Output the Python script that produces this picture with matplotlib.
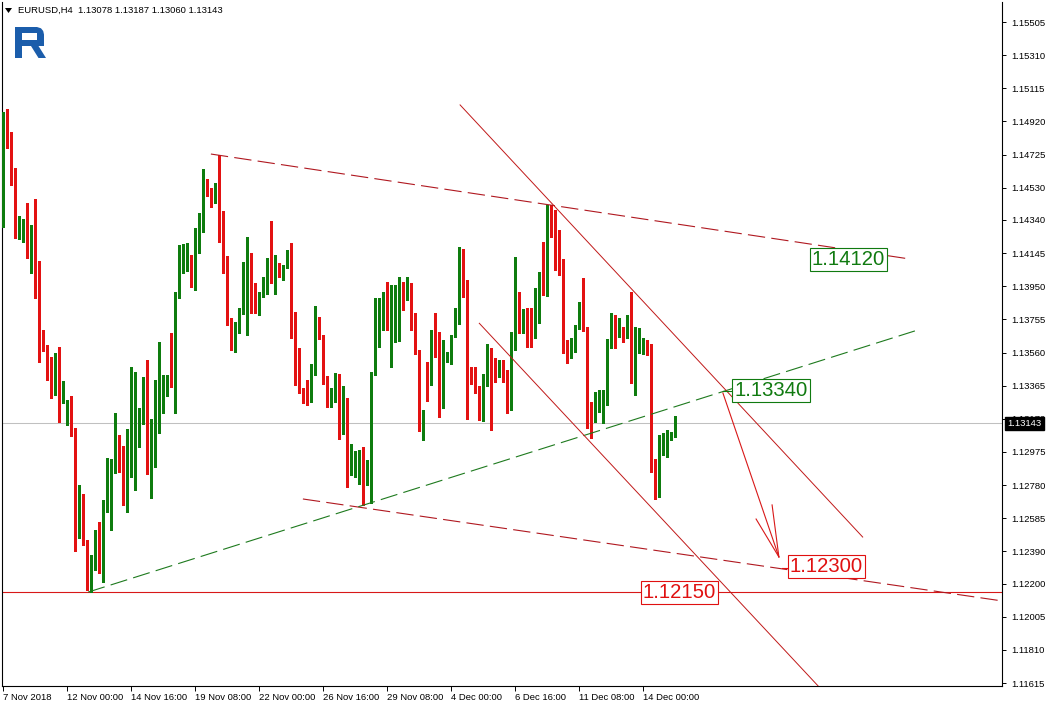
import matplotlib
matplotlib.use("Agg")
import matplotlib.pyplot as plt
import matplotlib.transforms as mtransforms
from matplotlib.patches import Polygon, Rectangle

plt.rcParams['lines.scale_dashes'] = False
plt.rcParams['font.family'] = ['Liberation Sans', 'DejaVu Sans']

# ---------------- data ----------------
symbol = "EURUSD,H4"
header_ohlc = ["1.13078", "1.13187", "1.13060", "1.13143"]

opens = [1.14516, 1.14905, 1.14793, 1.14634, 1.14240, 1.14322, 1.14334, 1.14222, 1.14258, 1.13922,
         1.13622, 1.13587, 1.13487, 1.13369, 1.13504, 1.13310, 1.13169, 1.13245, 1.13098, 1.12557,
         1.12721, 1.12445, 1.12165, 1.12351, 1.12398, 1.12339, 1.12633, 1.12786, 1.12857, 1.13069,
         1.12898, 1.12692, 1.12839, 1.12927, 1.13063, 1.13145, 1.13322, 1.12851, 1.12898, 1.13139,
         1.13239, 1.13386, 1.13416, 1.13398, 1.13887, 1.14116, 1.14099, 1.14128, 1.13963, 1.14263,
         1.14275, 1.14569, 1.14516, 1.14463, 1.14475, 1.14275, 1.14063, 1.13757, 1.13675, 1.13681,
         1.13793, 1.13834, 1.14122, 1.13957, 1.13792, 1.13893, 1.13963, 1.14034, 1.14028, 1.14075,
         1.13993, 1.14063, 1.14140, 1.13740, 1.13504, 1.13345, 1.13369, 1.13298, 1.13475, 1.13740,
         1.13651, 1.13386, 1.13263, 1.13281, 1.13428, 1.13086, 1.13198, 1.12845, 1.12839, 1.12869,
         1.12939, 1.12798, 1.12875, 1.13434, 1.13651, 1.13704, 1.13857, 1.13698, 1.13704, 1.13710,
         1.13910, 1.13898, 1.13916, 1.13704, 1.13569, 1.13139, 1.13498, 1.13375, 1.13657, 1.13651,
         1.13239, 1.13528, 1.13510, 1.13657, 1.13734, 1.14099, 1.13893, 1.13422, 1.13404, 1.13357,
         1.13175, 1.13369, 1.13557, 1.13492, 1.13428, 1.13475, 1.13445, 1.13404, 1.13592, 1.13857,
         1.13740, 1.13751, 1.13663, 1.13651, 1.13881, 1.13940, 1.13898, 1.14363, 1.14358, 1.14116,
         1.14104, 1.13592, 1.13534, 1.13616, 1.13704, 1.13816, 1.13693, 1.13175, 1.13157, 1.13298,
         1.13322, 1.13328, 1.13592, 1.13763, 1.13675, 1.13675, 1.13651, 1.13769, 1.13439, 1.13563,
         1.13557, 1.13628, 1.13604, 1.12927, 1.12733, 1.12998, 1.12980, 1.13063, 1.13078]
highs = [1.14975, 1.14993, 1.14858, 1.14646, 1.14363, 1.14346, 1.14440, 1.14310, 1.14463, 1.14099,
         1.13693, 1.13604, 1.13534, 1.13557, 1.13592, 1.13392, 1.13281, 1.13304, 1.13116, 1.12780,
         1.12727, 1.12457, 1.12368, 1.12516, 1.12563, 1.12692, 1.12939, 1.12933, 1.13204, 1.13075,
         1.13010, 1.13110, 1.13475, 1.13445, 1.13233, 1.13416, 1.13516, 1.13169, 1.13398, 1.13622,
         1.13428, 1.13428, 1.13675, 1.13916, 1.14193, 1.14199, 1.14205, 1.14134, 1.14293, 1.14381,
         1.14640, 1.14581, 1.14528, 1.14558, 1.14722, 1.14393, 1.14128, 1.13763, 1.13740, 1.13822,
         1.14093, 1.14240, 1.14146, 1.13969, 1.13916, 1.14004, 1.14116, 1.14334, 1.14134, 1.14087,
         1.14075, 1.14163, 1.14205, 1.13798, 1.13587, 1.13351, 1.13398, 1.13492, 1.13834, 1.13769,
         1.13663, 1.13422, 1.13351, 1.13439, 1.13434, 1.13363, 1.13292, 1.13022, 1.12980, 1.12986,
         1.13004, 1.12927, 1.13445, 1.13881, 1.13881, 1.13916, 1.13975, 1.13957, 1.13957, 1.14004,
         1.13975, 1.14004, 1.13969, 1.13793, 1.13575, 1.13222, 1.13504, 1.13693, 1.13793, 1.13681,
         1.13634, 1.13563, 1.13663, 1.13822, 1.14181, 1.14169, 1.13987, 1.13475, 1.13475, 1.13363,
         1.13434, 1.13610, 1.13587, 1.13528, 1.13516, 1.13516, 1.13457, 1.13681, 1.14122, 1.13916,
         1.13816, 1.13822, 1.13822, 1.13940, 1.14034, 1.14210, 1.14428, 1.14428, 1.14399, 1.14281,
         1.14110, 1.13634, 1.13645, 1.13722, 1.13857, 1.13999, 1.13710, 1.13269, 1.13328, 1.13339,
         1.13339, 1.13640, 1.13793, 1.13781, 1.13763, 1.13710, 1.13781, 1.13916, 1.13710, 1.13704,
         1.13645, 1.13634, 1.13610, 1.12933, 1.13075, 1.13086, 1.13104, 1.13092, 1.13187]
lows = [1.14299, 1.14764, 1.14546, 1.14234, 1.14228, 1.14210, 1.14116, 1.14028, 1.13881, 1.13504,
        1.13569, 1.13398, 1.13292, 1.13310, 1.13151, 1.13263, 1.13133, 1.13069, 1.12392, 1.12468,
        1.12427, 1.12162, 1.12150, 1.12280, 1.12262, 1.12209, 1.12621, 1.12516, 1.12851, 1.12857,
        1.12663, 1.12621, 1.12827, 1.12751, 1.13004, 1.13139, 1.12845, 1.12704, 1.12886, 1.13086,
        1.13204, 1.13304, 1.13357, 1.13204, 1.13881, 1.14028, 1.14040, 1.13946, 1.13928, 1.14146,
        1.14269, 1.14481, 1.14416, 1.14440, 1.14210, 1.14028, 1.13722, 1.13575, 1.13563, 1.13675,
        1.13786, 1.13663, 1.13793, 1.13792, 1.13781, 1.13887, 1.13904, 1.13969, 1.13904, 1.14004,
        1.13987, 1.14057, 1.13645, 1.13369, 1.13322, 1.13263, 1.13251, 1.13269, 1.13428, 1.13640,
        1.13375, 1.13239, 1.13239, 1.13269, 1.13051, 1.13080, 1.12769, 1.12839, 1.12827, 1.12786,
        1.12663, 1.12780, 1.12674, 1.13428, 1.13592, 1.13693, 1.13693, 1.13475, 1.13622, 1.13628,
        1.13810, 1.13869, 1.13693, 1.13551, 1.13098, 1.13045, 1.13275, 1.13369, 1.13534, 1.13180,
        1.13233, 1.13504, 1.13492, 1.13651, 1.13728, 1.13887, 1.13169, 1.13375, 1.13322, 1.13163,
        1.13157, 1.13363, 1.13104, 1.13386, 1.13416, 1.13386, 1.13204, 1.13222, 1.13575, 1.13675,
        1.13675, 1.13592, 1.13592, 1.13645, 1.13734, 1.13898, 1.13893, 1.14240, 1.14046, 1.14016,
        1.13557, 1.13498, 1.13528, 1.13563, 1.13698, 1.13687, 1.13116, 1.13057, 1.13151, 1.13210,
        1.13145, 1.13251, 1.13587, 1.13587, 1.13651, 1.13622, 1.13645, 1.13381, 1.13310, 1.13557,
        1.13551, 1.13545, 1.12857, 1.12698, 1.12710, 1.12957, 1.12945, 1.13045, 1.13060]
closes = [1.14940, 1.14787, 1.14628, 1.14240, 1.14322, 1.14334, 1.14222, 1.14258, 1.13916, 1.13634,
          1.13587, 1.13481, 1.13369, 1.13504, 1.13310, 1.13339, 1.13245, 1.13086, 1.12557, 1.12721,
          1.12439, 1.12168, 1.12357, 1.12398, 1.12339, 1.12674, 1.12786, 1.12904, 1.13069, 1.12898,
          1.12692, 1.12845, 1.12933, 1.13086, 1.13145, 1.13322, 1.12851, 1.12898, 1.13145, 1.13298,
          1.13386, 1.13416, 1.13392, 1.13887, 1.14116, 1.14146, 1.14116, 1.13963, 1.14269, 1.14281,
          1.14569, 1.14528, 1.14463, 1.14475, 1.14263, 1.14057, 1.13745, 1.13693, 1.13698, 1.13798,
          1.13840, 1.14122, 1.13952, 1.13846, 1.13904, 1.13969, 1.14028, 1.14022, 1.14075, 1.14028,
          1.14063, 1.14140, 1.13734, 1.13498, 1.13339, 1.13310, 1.13298, 1.13475, 1.13740, 1.13645,
          1.13381, 1.13263, 1.13292, 1.13428, 1.13086, 1.13204, 1.12845, 1.12904, 1.12880, 1.12945,
          1.12798, 1.12869, 1.13434, 1.13657, 1.13710, 1.13857, 1.13704, 1.13710, 1.13722, 1.13922,
          1.13898, 1.13916, 1.13698, 1.13557, 1.13145, 1.13175, 1.13375, 1.13657, 1.13645, 1.13239,
          1.13534, 1.13540, 1.13657, 1.13740, 1.14099, 1.13893, 1.13416, 1.13410, 1.13357, 1.13180,
          1.13369, 1.13557, 1.13492, 1.13439, 1.13475, 1.13445, 1.13404, 1.13592, 1.13857, 1.13769,
          1.13757, 1.13651, 1.13651, 1.13881, 1.13940, 1.13934, 1.14369, 1.14352, 1.14116, 1.14099,
          1.13592, 1.13540, 1.13622, 1.13704, 1.13810, 1.13693, 1.13169, 1.13163, 1.13298, 1.13328,
          1.13328, 1.13592, 1.13763, 1.13681, 1.13681, 1.13651, 1.13769, 1.13439, 1.13569, 1.13575,
          1.13628, 1.13592, 1.12922, 1.12733, 1.13004, 1.13033, 1.13063, 1.13080, 1.13143]

x_tick_bars = [0, 16, 32, 48, 64, 80, 96, 112, 128, 144, 160]
x_tick_labels = ["7 Nov 2018", "12 Nov 00:00", "14 Nov 16:00", "19 Nov 08:00", "22 Nov 00:00",
                 "26 Nov 16:00", "29 Nov 08:00", "4 Dec 00:00", "6 Dec 16:00", "11 Dec 08:00",
                 "14 Dec 00:00"]
y_tick_values = [1.15505, 1.15310, 1.15115, 1.14920, 1.14725, 1.14530, 1.14340, 1.14145, 1.13950,
                 1.13755, 1.13560, 1.13365, 1.13170, 1.12975, 1.12780, 1.12585, 1.12390, 1.12200,
                 1.12005, 1.11810, 1.11615]
last_price = 1.13143

# analysis objects (bar index, price)
resistance_x = [51.9, 226.7]
resistance_y = [1.14728, 1.14110]
support_x = [74.9, 249.7]
support_y = [1.12698, 1.12098]
rising_x = [21.2, 227.9]
rising_y = [1.12150, 1.13687]
channel_top_x = [114.2, 214.85]
channel_top_y = [1.15017, 1.12474]
channel_bot_x = [119.0, 205.0]
channel_bot_y = [1.13732, 1.11565]
level_low = 1.12150
arrow_x = [179.9, 193.9]
arrow_y = [1.13322, 1.12357]
arrow_head1_x = [188.2, 193.9]
arrow_head1_y = [1.12580, 1.12357]
arrow_head2_x = [192.2, 193.9]
arrow_head2_y = [1.12663, 1.12357]

labels_text = ["1.14120", "1.13340", "1.12300", "1.12150"]
labels_x = [211.3, 191.9, 205.8, 169.05]
labels_y = [1.14110, 1.13335, 1.12298, 1.12150]
labels_color = ["#107A10", "#107A10", "#E01010", "#E01010"]
# short leader ticks at the left of two labels (bar index, price)
leaders = [([180.0, 182.6], [1.13335, 1.13335], "#107A10"),
           ([194.6, 196.6], [1.12292, 1.12292], "#E01010")]

# ---------------- figure ----------------
W, H = 1048, 707
fig = plt.figure(figsize=(W / 100, H / 100), dpi=100)
fig.patch.set_facecolor("white")
ax = fig.add_axes([2 / W, 1 - 686 / H, 1000 / W, 684 / H])
ax.set_facecolor("white")
ax.set_xlim(-0.325, 249.68)
ax.set_ylim(1.115974, 1.156227)

GREEN = "#0E7C0E"
RED = "#E31212"
n = len(opens)
idx = list(range(n))
cols = [GREEN if c >= o else RED for o, c in zip(opens, closes)]
ax.vlines(idx, lows, highs, colors=cols, linewidth=0.75, antialiased=False, zorder=3)
bottoms = [min(o, c) for o, c in zip(opens, closes)]
heights = [max(abs(c - o), 0.00005) for o, c in zip(opens, closes)]
ax.bar(idx, heights, width=0.75, bottom=bottoms, color=cols, linewidth=0,
       antialiased=False, zorder=4)

# current price line
ax.axhline(last_price, color="#C0C0C0", linewidth=0.75, zorder=1)
# horizontal level
ax.axhline(level_low, color="#D81818", linewidth=0.8, zorder=2)

dash = (0, (12.5, 4.5))
ax.plot(resistance_x, resistance_y, color="#B01820", linewidth=0.8, linestyle=dash, zorder=5)
ax.plot(support_x, support_y, color="#B01820", linewidth=0.8, linestyle=dash, zorder=5)
ax.plot(rising_x, rising_y, color="#1E7A1E", linewidth=0.8, linestyle=dash, zorder=5)
ax.plot(channel_top_x, channel_top_y, color="#C01818", linewidth=0.7, zorder=5)
ax.plot(channel_bot_x, channel_bot_y, color="#C01818", linewidth=0.7, zorder=5)
for xs, ys in [(arrow_x, arrow_y), (arrow_head1_x, arrow_head1_y), (arrow_head2_x, arrow_head2_y)]:
    ax.plot(xs, ys, color="#D81818", linewidth=0.8, zorder=6)
for xs, ys, c in leaders:
    ax.plot(xs, ys, color=c, linewidth=0.8, zorder=7)

for t, lx, ly, c in zip(labels_text, labels_x, labels_y, labels_color):
    ax.text(lx, ly, t, color=c, fontsize=14.6, ha="center", va="center",
            zorder=8, bbox=dict(boxstyle="square,pad=0.1", fc="white", ec=c, lw=0.8))

# axes styling
for s in ["left", "right", "bottom", "top"]:
    ax.spines[s].set_linewidth(0.8)
    ax.spines[s].set_color("black")
ax.spines["top"].set_visible(False)
ax.yaxis.tick_right()
ax.set_yticks(y_tick_values)
ax.set_yticklabels([f"{v:.5f}" for v in y_tick_values])
ax.tick_params(axis="y", direction="out", length=3, width=0.7, pad=3.5, labelsize=6.8)
ax.set_xticks(x_tick_bars)
ax.set_xticklabels(x_tick_labels)
for lbl in ax.get_xticklabels():
    lbl.set_horizontalalignment("left")
ax.tick_params(axis="x", direction="out", length=3.5, width=0.7, pad=1.5, labelsize=6.8)

# last price tag on the axis
tr = mtransforms.blended_transform_factory(ax.transAxes, ax.transData)
ax.text(1.0055, last_price, f"{last_price:.5f}", transform=tr, color="white", fontsize=6.8,
        ha="left", va="center", zorder=20, clip_on=False,
        bbox=dict(boxstyle="square,pad=0.25", fc="black", ec="black"))

# ---------------- overlay: header + logo ----------------
ov = fig.add_axes([0, 0, 1, 1])
ov.set_xlim(0, W)
ov.set_ylim(H, 0)
ov.axis("off")
ov.patch.set_visible(False)
ov.add_patch(Polygon([(5, 8), (12, 8), (8.5, 13)], closed=True, fc="black", ec="none"))
ov.text(18, 10.5, symbol + "  " + " ".join(header_ohlc), fontsize=6.8, ha="left", va="center")

BLUE = "#1B5DAB"
ov.add_patch(Polygon([(15, 58), (15, 27), (37, 27), (41, 28.3), (43.2, 31), (44, 34.5),
                      (44, 46), (22, 46), (22, 58)], closed=True, fc=BLUE, ec="none"))
ov.add_patch(Rectangle((22, 33), 15, 7, fc="white", ec="none"))
ov.add_patch(Polygon([(31, 46), (38.5, 46), (46, 58), (38.5, 58)], closed=True, fc=BLUE, ec="none"))

fig.savefig("out.png", dpi=100, facecolor="white")
